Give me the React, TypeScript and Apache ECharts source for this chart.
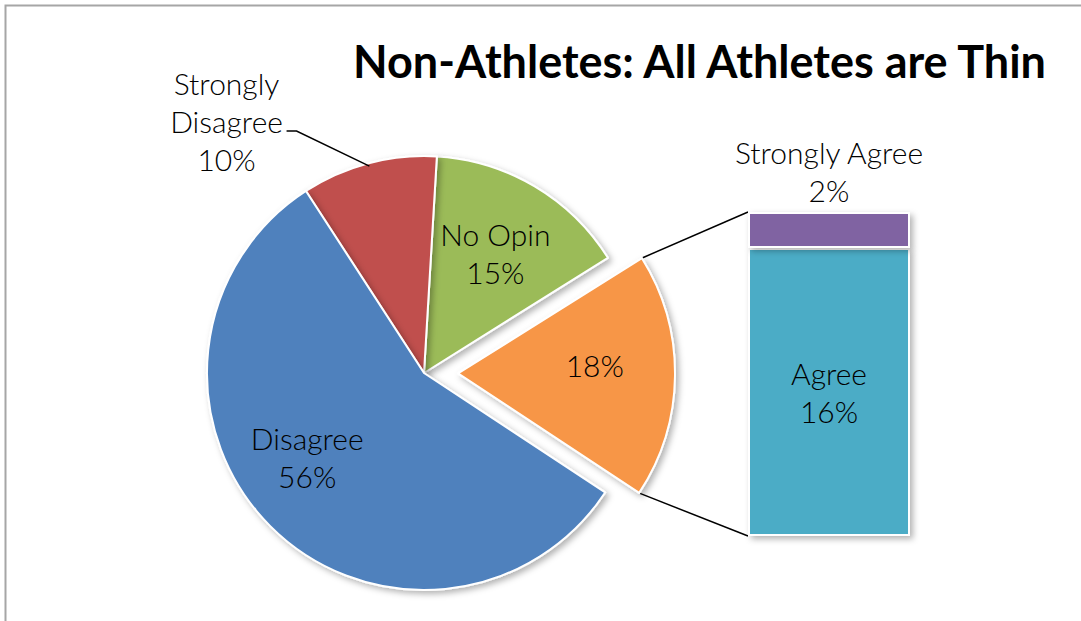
import React, { useEffect, useRef } from "react";
import * as echarts from "echarts";

// ---------- data ----------
const titleText = "Non-Athletes: All Athletes are Thin";
const pieNames = ["Other", "No Opin", "Strongly Disagree", "Disagree"];
const pieLabelNames = ["", "No Opin", "Strongly\nDisagree", "Disagree"];
const pieValues = [18, 15, 10, 56];
const barNames = ["Agree", "Strongly Agree"];
const barValues = [16, 2];

// ---------- styles / layout ----------
const pieColors = ["#F79646", "#9BBB59", "#C0504D", "#4F81BD"];
const barColors = ["#4BACC6", "#8064A2"];
const FONT = "Lato, 'Open Sans', sans-serif";
const LABEL_SIZE = 30;
const LABEL_WEIGHT = 300;
const LABEL_LH = 38;
const CX = 424;
const CY = 373;
const R = 217;
const EXPLODE = 34;
const START = -33.4;
const GRID_LEFT = 748;
const GRID_TOP = 212;
const GRID_W = 162;
const GRID_H = 324;
const insideLabelPolar = [
  { r: 137, dAngle: 4 },
  { r: 140, dAngle: 0 },
  null,
  { r: 144, dAngle: -9 },
];

const polar = (cx: number, cy: number, r: number, deg: number) => {
  const a = (deg * Math.PI) / 180;
  return [cx + r * Math.cos(a), cy - r * Math.sin(a)];
};

export default function App() {
  const ref = useRef<HTMLDivElement>(null);
  useEffect(() => {
    if (!ref.current) return;
    const chart = echarts.init(ref.current, undefined, { renderer: "svg" });

    const total = pieValues.reduce((s, v) => s + v, 0);
    let acc = START;
    const slices = pieValues.map((v) => {
      const a0 = acc;
      const a1 = acc + (v / total) * 360;
      acc = a1;
      return { a0, a1, mid: (a0 + a1) / 2 };
    });

    const labelStyle = {
      align: "center",
      verticalAlign: "middle",
      fontFamily: FONT,
      fontWeight: LABEL_WEIGHT,
      fontSize: LABEL_SIZE,
      lineHeight: LABEL_LH,
      fill: "#000",
    };

    const graphics: any[] = [];
    // outer frame
    graphics.push({
      type: "rect",
      silent: true,
      shape: { x: 5.5, y: 5.5, width: 1200, height: 800 },
      style: { fill: "none", stroke: "#A6A6A6", lineWidth: 2 },
    });
    // title
    graphics.push({
      type: "text",
      silent: true,
      style: {
        text: titleText,
        x: 1046,
        y: 61,
        align: "right",
        verticalAlign: "middle",
        fontFamily: FONT,
        fontWeight: "bold",
        fontSize: 45,
        fill: "#000",
      },
    });

    // pie labels
    slices.forEach((s, i) => {
      const text = pieLabelNames[i]
        ? `${pieLabelNames[i]}\n${pieValues[i]}%`
        : `${pieValues[i]}%`;
      const spec = insideLabelPolar[i];
      let cx = CX;
      let cy = CY;
      if (i === 0) {
        const c = polar(CX, CY, EXPLODE, s.mid);
        cx = c[0];
        cy = c[1];
      }
      if (spec) {
        const p = polar(cx, cy, spec.r, s.mid + spec.dAngle);
        graphics.push({
          type: "text",
          silent: true,
          z: 10,
          style: { text, x: p[0], y: p[1], ...labelStyle },
        });
      } else {
        const edge = polar(CX, CY, R - 3, s.mid);
        const elbow = polar(CX, CY, R * 1.26, s.mid + 13);
        const hEnd = [elbow[0] - 10, elbow[1]];
        graphics.push({
          type: "polyline",
          silent: true,
          z: 10,
          shape: { points: [edge, elbow, hEnd] },
          style: { stroke: "#000", lineWidth: 1.5, fill: "none" },
        });
        graphics.push({
          type: "text",
          silent: true,
          z: 10,
          style: { text, x: hEnd[0] - 60, y: elbow[1] - 10, ...labelStyle },
        });
      }
    });

    // connector lines from exploded slice to bar
    const oc = polar(CX, CY, EXPLODE, slices[0].mid);
    const pTop = polar(oc[0], oc[1], R + 1, slices[0].a1);
    const pBot = polar(oc[0], oc[1], R + 1, slices[0].a0);
    graphics.push({
      type: "line",
      silent: true,
      shape: { x1: pTop[0], y1: pTop[1], x2: GRID_LEFT, y2: GRID_TOP },
      style: { stroke: "#000", lineWidth: 1.5 },
    });
    graphics.push({
      type: "line",
      silent: true,
      shape: { x1: pBot[0], y1: pBot[1], x2: GRID_LEFT, y2: GRID_TOP + GRID_H },
      style: { stroke: "#000", lineWidth: 1.5 },
    });

    const shadow = {
      shadowBlur: 6,
      shadowOffsetX: 3,
      shadowOffsetY: 3,
      shadowColor: "rgba(0,0,0,0.3)",
    };

    const barTotal = barValues.reduce((s, v) => s + v, 0);

    chart.setOption({
      animation: false,
      backgroundColor: "#fff",
      grid: { left: GRID_LEFT, top: GRID_TOP, width: GRID_W, height: GRID_H },
      xAxis: { type: "category", data: [""], show: false },
      yAxis: { type: "value", min: 0, max: barTotal, show: false },
      series: [
        {
          type: "pie",
          silent: true,
          center: [CX, CY],
          radius: R,
          clockwise: false,
          startAngle: START,
          selectedMode: "single",
          selectedOffset: EXPLODE,
          label: { show: false },
          labelLine: { show: false },
          emphasis: { disabled: true },
          itemStyle: { borderColor: "#fff", borderWidth: 2, ...shadow },
          data: pieNames.map((n, i) => ({
            name: n,
            value: pieValues[i],
            selected: i === 0,
            itemStyle: { color: pieColors[i] },
          })),
        },
        ...barNames.map((n, i) => ({
          type: "bar",
          name: n,
          silent: true,
          stack: "other",
          barWidth: "100%",
          data: [barValues[i]],
          itemStyle: {
            color: barColors[i],
            borderColor: "#fff",
            borderWidth: 2,
            ...shadow,
          },
          label: {
            show: true,
            position: i === 0 ? "inside" : "top",
            distance: 3,
            formatter: () => `${n}\n${barValues[i]}%`,
            fontFamily: FONT,
            fontWeight: LABEL_WEIGHT,
            fontSize: LABEL_SIZE,
            lineHeight: LABEL_LH,
            color: "#000",
          },
        })),
      ],
      graphic: graphics,
    });

    return () => chart.dispose();
  }, []);

  return (
    <div
      ref={ref}
      style={{ position: "fixed", left: 0, top: 0, width: 1081, height: 621 }}
    />
  );
}
